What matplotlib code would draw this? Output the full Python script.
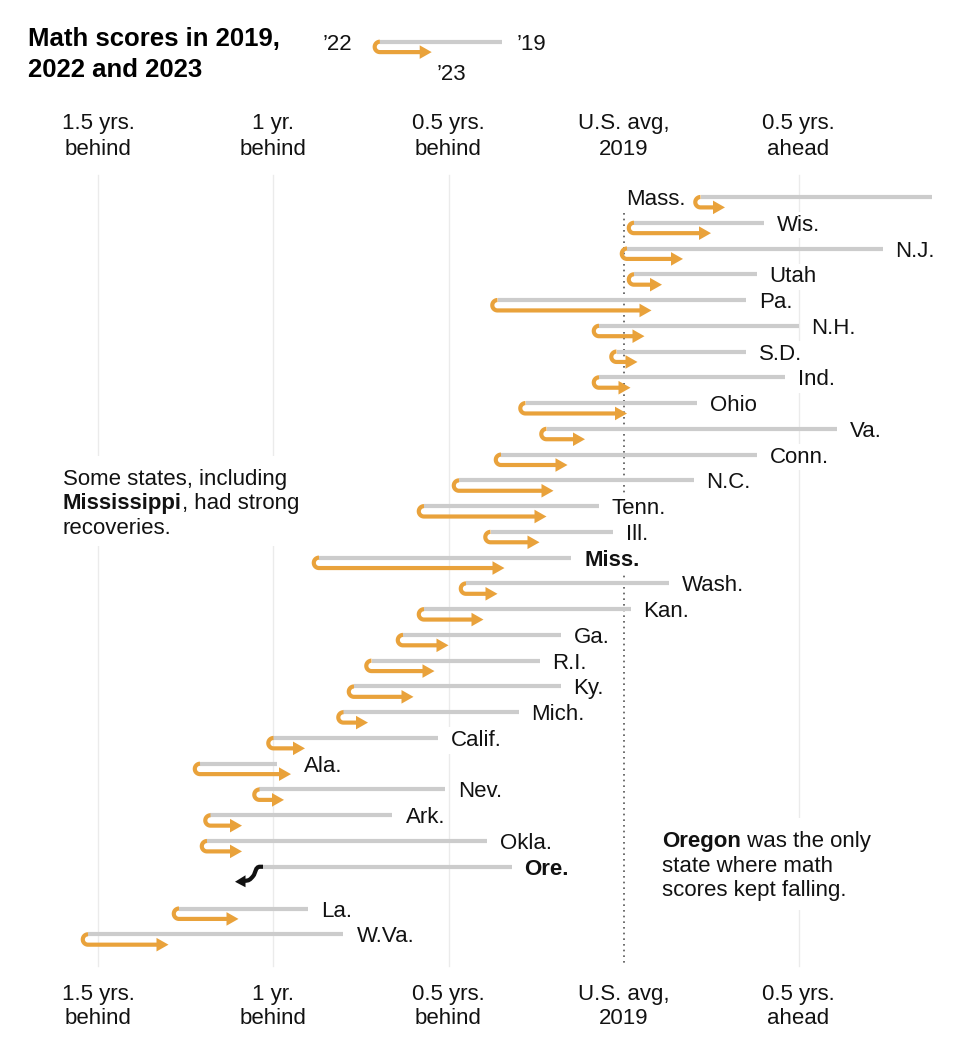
import matplotlib
matplotlib.use("Agg")
import matplotlib.pyplot as plt
import matplotlib.transforms as mtransforms
import numpy as np
from matplotlib.patches import Polygon, Rectangle, PathPatch
from matplotlib.path import Path

# ---------------- data (years ahead(+)/behind(-) the 2019 U.S. average) ----------------
states = ["Mass.", "Wis.", "N.J.", "Utah", "Pa.", "N.H.", "S.D.", "Ind.", "Ohio", "Va.",
          "Conn.", "N.C.", "Tenn.", "Ill.", "Miss.", "Wash.", "Kan.", "Ga.", "R.I.", "Ky.",
          "Mich.", "Calif.", "Ala.", "Nev.", "Ark.", "Okla.", "Ore.", "La.", "W.Va."]
score_2019 = [0.88, 0.40, 0.74, 0.38, 0.35, 0.50, 0.35, 0.46, 0.21, 0.61,
              0.38, 0.20, -0.07, -0.03, -0.15, 0.13, 0.02, -0.18, -0.24, -0.18,
              -0.30, -0.53, -0.99, -0.51, -0.66, -0.39, -0.32, -0.90, -0.80]
score_2022 = [0.22, 0.03, 0.01, 0.03, -0.36, -0.07, -0.02, -0.07, -0.28, -0.22,
              -0.35, -0.47, -0.57, -0.38, -0.87, -0.45, -0.57, -0.63, -0.72, -0.77,
              -0.80, -1.00, -1.21, -1.04, -1.18, -1.19, -1.03, -1.27, -1.53]
score_2023 = [0.29, 0.25, 0.17, 0.11, 0.08, 0.06, 0.04, 0.02, 0.01, -0.11,
              -0.16, -0.20, -0.22, -0.24, -0.34, -0.36, -0.40, -0.50, -0.54, -0.60,
              -0.73, -0.91, -0.95, -0.97, -1.09, -1.09, -1.11, -1.10, -1.30]
bold_states = ["Miss.", "Ore."]
left_label_states = ["Mass."]

tick_values = [-1.5, -1.0, -0.5, 0.0, 0.5]
tick_line1 = ["1.5 yrs.", "1 yr.", "0.5 yrs.", "U.S. avg,", "0.5 yrs."]
tick_line2 = ["behind", "behind", "behind", "2019", "ahead"]

title_lines = ["Math scores in 2019,", "2022 and 2023"]
legend_2019, legend_2022, legend_2023 = -0.347, -0.696, -0.548
legend_labels = ["\u201922", "\u201919", "\u201923"]

note_left = [[("Some states, including", "normal")],
             [("Mississippi", "bold"), (", had strong", "normal")],
             [("recoveries.", "normal")]]
note_right = [[("Oregon", "bold"), (" was the only", "normal")],
              [("state where math", "normal")],
              [("scores kept falling.", "normal")]]

# ---------------- layout / style ----------------
W, H, DPI = 976, 1040, 100
PX_PER_YEAR = 350.0
ZERO_PX = 623.5
ROW0 = 197.0
ROW_STEP = 25.76
ORE_GAP = 16.0

ORANGE = "#E9A23B"
GREY = "#CCCCCC"
INK = "#121212"
FS = 16

plt.rcParams["font.family"] = ["Liberation Sans", "DejaVu Sans"]

fig = plt.figure(figsize=(W / DPI, H / DPI), dpi=DPI)
fig.patch.set_facecolor("white")
ax = fig.add_axes([0, 0, 1, 1])
ax.set_xlim(-ZERO_PX / PX_PER_YEAR, (W - ZERO_PX) / PX_PER_YEAR)
ax.set_ylim(H, 0)
ax.axis("off")

pix = mtransforms.Affine2D().scale(1.0 / W, -1.0 / H).translate(0, 1) + fig.transFigure


def dx(p):
    return p / PX_PER_YEAR


n = len(states)
ore_i = states.index("Ore.")
rows_y = [ROW0 + ROW_STEP * i + (ORE_GAP if i > ore_i else 0.0) for i in range(n)]

# grid / reference line
for t in tick_values:
    if t == 0:
        ax.plot([t, t], [213, 966], color="#555555", lw=1.2, ls=(0, (1, 2.4)), zorder=1)
    else:
        ax.plot([t, t], [175, 966], color="#ebebeb", lw=1.0, zorder=0)

LW = 3.0
R = 5.2
HEAD_L, HEAD_W = 12.0, 6.8


def draw_change(x19, x22, x23, y, r=R):
    ax.plot([x22, x19], [y, y], color=GREY, lw=LW, solid_capstyle="butt", zorder=2)
    phi = np.linspace(0, np.pi, 40)
    hx = x22 - dx(r * np.sin(phi))
    hy = y + r - r * np.cos(phi)
    yb = y + 2 * r
    xs = np.concatenate([hx, [x23 - dx(HEAD_L) + dx(1)]])
    ys = np.concatenate([hy, [yb]])
    ax.plot(xs, ys, color=ORANGE, lw=LW, solid_capstyle="butt",
            solid_joinstyle="round", zorder=3)
    ax.add_patch(Polygon([[x23, yb], [x23 - dx(HEAD_L), yb - HEAD_W],
                          [x23 - dx(HEAD_L), yb + HEAD_W]], closed=True,
                         fc=ORANGE, ec="none", zorder=3))


def draw_decline(x19, x22, x23, y):
    ax.plot([x22, x19], [y, y], color=GREY, lw=LW, solid_capstyle="butt", zorder=2)
    hl, hw = 10.5, 6.0
    yb = y + 14
    verts = [(x22, y), (x22 - dx(3), y),
             (x22 - dx(8), y), (x22 - dx(7), y + 6), (x22 - dx(10), y + 9.5),
             (x22 - dx(13), y + 13), (x22 - dx(14), yb), (x23 + dx(hl) - dx(1), yb)]
    codes = [Path.MOVETO, Path.LINETO, Path.CURVE4, Path.CURVE4, Path.CURVE4,
             Path.CURVE4, Path.CURVE4, Path.CURVE4]
    ax.add_patch(PathPatch(Path(verts, codes), fc="none", ec="#111111", lw=LW,
                           capstyle="butt", zorder=3))
    ax.add_patch(Polygon([[x23, yb + 1], [x23 + dx(hl), yb - hw + 0.5],
                          [x23 + dx(hl), yb + hw + 0.5]], closed=True,
                         fc="#111111", ec="none", zorder=3))


for i, s in enumerate(states):
    y = rows_y[i]
    if score_2023[i] < score_2022[i]:
        draw_decline(score_2019[i], score_2022[i], score_2023[i], y)
    else:
        draw_change(score_2019[i], score_2022[i], score_2023[i], y)
    weight = "bold" if s in bold_states else "normal"
    if s in left_label_states:
        x, ha = score_2022[i] - dx(15), "right"
    else:
        x, ha = max(score_2019[i], score_2023[i]) + dx(13), "left"
    ax.text(x, y + 8, s, ha=ha, va="baseline", fontsize=FS, fontweight=weight,
            color=INK, zorder=4,
            bbox=dict(boxstyle="square,pad=0.12", fc="white", ec="none"))

# axis labels top & bottom
for t, l1, l2 in zip(tick_values, tick_line1, tick_line2):
    for yb1, yb2 in [(129.5, 155), (1000, 1024)]:
        ax.text(t, yb1, l1, ha="center", va="baseline", fontsize=FS, color=INK)
        ax.text(t, yb2, l2, ha="center", va="baseline", fontsize=FS, color=INK)

# title
ax.text(28, 46, title_lines[0], transform=pix, fontsize=18.5, fontweight="bold",
        color="black", va="baseline", ha="left")
ax.text(28, 77, title_lines[1], transform=pix, fontsize=18.5, fontweight="bold",
        color="black", va="baseline", ha="left")

# legend
draw_change(legend_2019, legend_2022, legend_2023, 41.7)
ax.text(352, 50, legend_labels[0], transform=pix, fontsize=FS, color=INK,
        ha="right", va="baseline")
ax.text(517, 50, legend_labels[1], transform=pix, fontsize=FS, color=INK,
        ha="left", va="baseline")
ax.text(437, 80, legend_labels[2], transform=pix, fontsize=FS, color=INK,
        ha="left", va="baseline")


def rich_lines(xpx, baselines, lines):
    for ypx, parts in zip(baselines, lines):
        prev = None
        for txt, weight in parts:
            if prev is None:
                prev = ax.text(xpx, ypx, txt, transform=pix, fontsize=FS,
                               fontweight=weight, color=INK, ha="left",
                               va="baseline", zorder=5)
            else:
                prev = ax.annotate(txt, xy=(1, 0), xycoords=prev, fontsize=FS,
                                   fontweight=weight, color=INK, ha="left",
                                   va="bottom", zorder=5)


ax.add_patch(Rectangle((58, 456), 250, 90, transform=pix, fc="white", ec="none", zorder=0.5))
ax.add_patch(Rectangle((655, 818), 230, 92, transform=pix, fc="white", ec="none", zorder=0.5))
rich_lines(63, [485, 509, 533.5], note_left)
rich_lines(662, [847, 871.5, 896], note_right)

fig.savefig("out.png", dpi=DPI, facecolor="white")
